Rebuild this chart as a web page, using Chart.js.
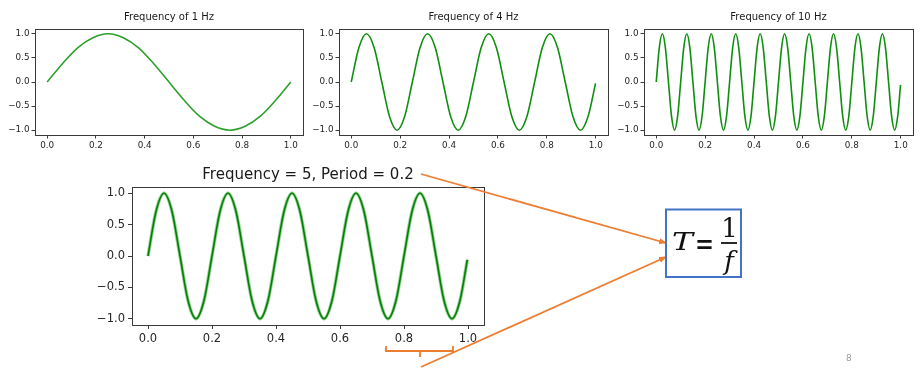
<!DOCTYPE html>
<html><head><meta charset="utf-8">
<script src="https://cdn.jsdelivr.net/npm/chart.js@4"></script>
<style>
html,body{margin:0;padding:0;background:#fff;width:919px;height:374px;overflow:hidden;position:relative;font-family:"DejaVu Sans",sans-serif}
canvas{position:absolute}
svg{position:absolute;left:0;top:0}
</style></head><body>
<canvas id="c1" width="310" height="155" style="left:0px;top:0px"></canvas>
<canvas id="c2" width="310" height="155" style="left:304px;top:0px"></canvas>
<canvas id="c3" width="310" height="155" style="left:609px;top:0px"></canvas>
<canvas id="c4" width="420" height="190" style="left:80px;top:158px"></canvas>
<svg width="919" height="374" viewBox="0 0 919 374">
  <defs>
    <marker id="ah" markerWidth="8" markerHeight="6" refX="7" refY="3" orient="auto" markerUnits="userSpaceOnUse">
      <path d="M0,0 L8,3 L0,6 z" fill="#ED7D31"/>
    </marker>
  </defs>
  <line x1="421" y1="174" x2="666" y2="243" stroke="#ED7D31" stroke-width="1.8" marker-end="url(#ah)"/>
  <line x1="421" y1="367" x2="666" y2="257" stroke="#ED7D31" stroke-width="1.8" marker-end="url(#ah)"/>
  <polyline points="386,346 386,351 453,351 453,346" fill="none" stroke="#ED7D31" stroke-width="1.8"/>
  <line x1="420" y1="351" x2="420" y2="357" stroke="#ED7D31" stroke-width="1.8"/>
  <rect x="666" y="209.5" width="75" height="67.5" fill="#fff" stroke="#4472C4" stroke-width="2"/>
  <text x="672" y="250" font-family="DejaVu Serif" font-style="italic" font-size="24" fill="#111" textLength="21" lengthAdjust="spacingAndGlyphs">T</text>
  <text x="695" y="255" font-family="DejaVu Sans" font-size="32" fill="#111" textLength="19" lengthAdjust="spacingAndGlyphs">=</text>
  <text x="729.5" y="237" text-anchor="middle" font-family="DejaVu Serif" font-size="26" fill="#111">1</text>
  <line x1="721" y1="243" x2="737" y2="243" stroke="#111" stroke-width="1.8"/>
  <text x="729" y="270" text-anchor="middle" font-family="DejaVu Serif" font-style="italic" font-size="26" fill="#111">f</text>
  <text x="846" y="361" font-family="DejaVu Sans" font-size="9" fill="#999">8</text>
</svg>
<script>
// ---- data ----
const titles = ["Frequency of 1 Hz", "Frequency of 4 Hz", "Frequency of 10 Hz", "Frequency = 5, Period = 0.2"];
const xTicks = [0, 0.2, 0.4, 0.6, 0.8, 1.0];
const xTickLabels = ["0.0", "0.2", "0.4", "0.6", "0.8", "1.0"];
const yTicks = [-1, -0.5, 0, 0.5, 1];
const yTickLabels = ["\u22121.0", "\u22120.5", "0.0", "0.5", "1.0"];

const t1 = [0,0.0625,0.125,0.1875,0.25,0.3125,0.375,0.4375,0.5,0.5625,0.625,0.6875,0.75,0.8125,0.875,0.9375,1];
const y1 = [0,0.38,0.71,0.92,1,0.92,0.71,0.38,0,-0.38,-0.71,-0.92,-1,-0.92,-0.71,-0.38,0];

const t4 = [0,0.03125,0.0625,0.09375,0.125,0.15625,0.1875,0.21875,
  0.25,0.28125,0.3125,0.34375,0.375,0.40625,0.4375,0.46875,
  0.5,0.53125,0.5625,0.59375,0.625,0.65625,0.6875,0.71875,
  0.75,0.78125,0.8125,0.84375,0.875,0.90625,0.9375,0.96875,
  0.999];
const y4 = [0,0.71,1,0.71,0,-0.71,-1,-0.71,
  0,0.71,1,0.71,0,-0.71,-1,-0.71,
  0,0.71,1,0.71,0,-0.71,-1,-0.71,
  0,0.71,1,0.71,0,-0.71,-1,-0.71,
  -0.03];

const t10 = [0,0.0125,0.025,0.0375,0.05,0.0625,0.075,0.0875,
  0.1,0.1125,0.125,0.1375,0.15,0.1625,0.175,0.1875,
  0.2,0.2125,0.225,0.2375,0.25,0.2625,0.275,0.2875,
  0.3,0.3125,0.325,0.3375,0.35,0.3625,0.375,0.3875,
  0.4,0.4125,0.425,0.4375,0.45,0.4625,0.475,0.4875,
  0.5,0.5125,0.525,0.5375,0.55,0.5625,0.575,0.5875,
  0.6,0.6125,0.625,0.6375,0.65,0.6625,0.675,0.6875,
  0.7,0.7125,0.725,0.7375,0.75,0.7625,0.775,0.7875,
  0.8,0.8125,0.825,0.8375,0.85,0.8625,0.875,0.8875,
  0.9,0.9125,0.925,0.9375,0.95,0.9625,0.975,0.9875,
  0.999];
const y10 = [0,0.71,1,0.71,0,-0.71,-1,-0.71,
  0,0.71,1,0.71,0,-0.71,-1,-0.71,
  0,0.71,1,0.71,0,-0.71,-1,-0.71,
  0,0.71,1,0.71,0,-0.71,-1,-0.71,
  0,0.71,1,0.71,0,-0.71,-1,-0.71,
  0,0.71,1,0.71,0,-0.71,-1,-0.71,
  0,0.71,1,0.71,0,-0.71,-1,-0.71,
  0,0.71,1,0.71,0,-0.71,-1,-0.71,
  0,0.71,1,0.71,0,-0.71,-1,-0.71,
  0,0.71,1,0.71,0,-0.71,-1,-0.71,
  -0.06];

const t5 = [0,0.025,0.05,0.075,0.1,0.125,0.15,0.175,
  0.2,0.225,0.25,0.275,0.3,0.325,0.35,0.375,
  0.4,0.425,0.45,0.475,0.5,0.525,0.55,0.575,
  0.6,0.625,0.65,0.675,0.7,0.725,0.75,0.775,
  0.8,0.825,0.85,0.875,0.9,0.925,0.95,0.975,
  0.998];
const y5 = [0,0.71,1,0.71,0,-0.71,-1,-0.71,
  0,0.71,1,0.71,0,-0.71,-1,-0.71,
  0,0.71,1,0.71,0,-0.71,-1,-0.71,
  0,0.71,1,0.71,0,-0.71,-1,-0.71,
  0,0.71,1,0.71,0,-0.71,-1,-0.71,
  -0.06];

// ---- rendering ----
const FONT = "'DejaVu Sans', sans-serif";
const framePlugin = {
  id: 'frame',
  afterDatasetsDraw(chart) {
    const a = chart.chartArea, ctx = chart.ctx;
    ctx.save();
    ctx.strokeStyle = '#3a3a3a';
    ctx.lineWidth = 1;
    ctx.strokeRect(Math.round(a.left) + 0.5, Math.round(a.top) + 0.5, Math.round(a.right - a.left), Math.round(a.bottom - a.top));
    ctx.restore();
  }
};

function pts(xs, ys) { return xs.map((x, i) => ({ x: x, y: ys[i] })); }
function labelFor(v, ticks, labels) {
  for (let i = 0; i < ticks.length; i++) if (Math.abs(ticks[i] - v) < 1e-9) return labels[i];
  return '';
}

function build(id, title, datasets, c) {
  new Chart(document.getElementById(id), {
    type: 'line',
    data: { datasets: datasets },
    options: {
      responsive: false, animation: false, devicePixelRatio: 1,
      layout: { padding: { left: 0, right: c.pr, top: 0, bottom: 0 } },
      plugins: {
        legend: { display: false }, tooltip: { enabled: false },
        title: { display: true, text: title, fullSize: false, color: '#1a1a1a',
          font: { family: FONT, size: c.tfs, weight: 'normal', lineHeight: 1.2 },
          padding: { top: c.tpt, bottom: c.tpb } }
      },
      elements: { point: { radius: 0 }, line: { cubicInterpolationMode: 'monotone' } },
      scales: {
        x: {
          type: 'linear', min: -0.05, max: 1.05,
          afterBuildTicks: s => { s.ticks = xTicks.map(v => ({ value: v })); },
          afterFit: s => { s.height = c.xh; },
          ticks: { autoSkip: false, maxRotation: 0, color: '#262626', padding: c.pad,
            font: { family: FONT, size: c.fs }, callback: v => labelFor(v, xTicks, xTickLabels) },
          grid: { display: true, drawOnChartArea: false, drawTicks: true, tickLength: c.tl, tickWidth: 1, tickColor: '#3a3a3a' },
          border: { display: false }
        },
        y: {
          type: 'linear', min: -1.1, max: 1.1,
          afterBuildTicks: s => { s.ticks = yTicks.map(v => ({ value: v })); },
          afterFit: s => { s.width = c.yw; },
          ticks: { autoSkip: false, color: '#262626', padding: c.pad,
            font: { family: FONT, size: c.fs }, callback: v => labelFor(v, yTicks, yTickLabels) },
          grid: { display: true, drawOnChartArea: false, drawTicks: true, tickLength: c.tl, tickWidth: 1, tickColor: '#3a3a3a' },
          border: { display: false }
        }
      }
    },
    plugins: [framePlugin]
  });
}

const small = { pr: 7, xh: 20, yw: 35, tfs: 10, tpt: 11, tpb: 6, fs: 8.8, pad: 2, tl: 3.5 };
build('c1', titles[0], [{ data: pts(t1, y1), borderColor: '#2ca02c', borderWidth: 1.6, fill: false }], small);
build('c2', titles[1], [{ data: pts(t4, y4), borderColor: '#0e8f0e', borderWidth: 1.6, fill: false }], Object.assign({}, small, { pr: 6 }));
build('c3', titles[2], [{ data: pts(t10, y10), borderColor: '#0e8f0e', borderWidth: 1.6, fill: false }], Object.assign({}, small, { pr: 6 }));
build('c4', titles[3], [
  { data: pts(t5, y5), borderColor: '#008000', borderWidth: 1.6, fill: false },
  { data: pts(t5, y5), borderColor: 'rgba(44,160,44,0.5)', borderWidth: 3.4, fill: false }
], { pr: 16, xh: 23, yw: 52, tfs: 15, tpt: 8, tpb: 3, fs: 11.5, pad: 3, tl: 4 });
</script>
</body></html>
